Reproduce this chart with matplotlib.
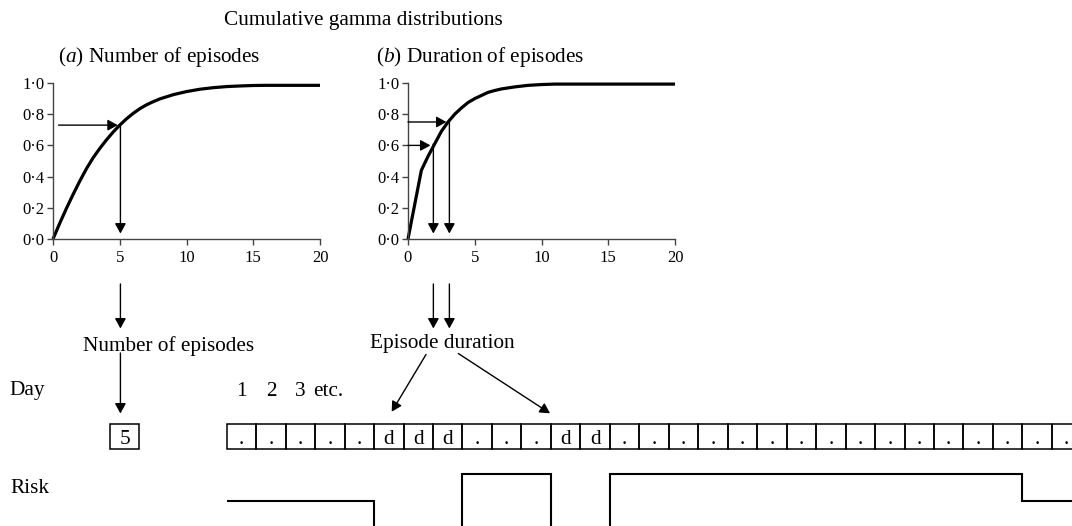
import matplotlib
matplotlib.use("Agg")
import matplotlib.pyplot as plt
from matplotlib.patches import Rectangle
from matplotlib.ticker import FuncFormatter, FixedLocator

plt.rcParams['font.family'] = ['Liberation Serif', 'DejaVu Serif']
plt.rcParams['mathtext.fontset'] = 'custom'
plt.rcParams['mathtext.rm'] = 'Liberation Serif'
plt.rcParams['mathtext.it'] = 'Liberation Serif:italic'

# ---------------- data ----------------
main_title = "Cumulative gamma distributions"
panel_titles = [r"($\mathit{a}$) Number of episodes", r"($\mathit{b}$) Duration of episodes"]

# cumulative gamma, number of episodes
num_x = [0, 0.5, 1, 1.5, 2, 2.5, 3, 3.5, 4, 4.5, 5, 5.5, 6, 6.5, 7, 7.5, 8,
         9, 10, 11, 12, 13, 14, 15, 16, 18, 20]
num_y = [0, 0.10, 0.195, 0.285, 0.37, 0.45, 0.52, 0.58, 0.635, 0.685, 0.73, 0.77, 0.805,
         0.835, 0.86, 0.88, 0.898, 0.925, 0.945, 0.96, 0.97, 0.977, 0.981, 0.984, 0.985,
         0.985, 0.985]
# cumulative gamma, duration of episodes
dur_x = [0, 1, 1.5, 2, 2.5, 3, 3.5, 4, 4.5, 5, 5.5, 6, 6.5, 7, 8, 9, 10, 11, 20]
dur_y = [0, 0.44, 0.53, 0.61, 0.69, 0.75, 0.80, 0.84, 0.875, 0.90, 0.92, 0.94, 0.952,
         0.962, 0.975, 0.985, 0.99, 0.993, 0.993]

x_ticks = [0, 5, 10, 15, 20]
y_ticks = [0.0, 0.2, 0.4, 0.6, 0.8, 1.0]

# sampled values (x, cumulative probability)
num_draw = (5.05, 0.73)
dur_draws = [(1.9, 0.60), (3.1, 0.75)]

n_episodes_label = "5"
day_labels = ["1", "2", "3"]
day_states = ['.'] * 5 + ['d'] * 3 + ['.'] * 3 + ['d'] * 2 + ['.'] * 16
risk_levels = [1] * 5 + [0] * 3 + [2] * 3 + [0] * 2 + [2] * 14 + [1] * 2

# ---------------- layout (pixels) ----------------
W, H = 1072, 526
FS = 15.3
TICK_FS = 12
fig = plt.figure(figsize=(W / 100, H / 100), dpi=100)


def frac_rect(left, top, width, height):
    return [left / W, (H - top - height) / H, width / W, height / H]


# overlay axes in pixel coordinates
ov = fig.add_axes([0, 0, 1, 1])
ov.set_xlim(0, W)
ov.set_ylim(H, 0)
ov.axis('off')

head = dict(arrowstyle='-|>,head_length=0.4,head_width=0.22', color='black', lw=1.0,
            mutation_scale=15, shrinkA=0, shrinkB=0)


def arrow(ax, start, end):
    ax.annotate('', xy=end, xytext=start, arrowprops=head)


fmt = FuncFormatter(lambda v, p: f"{v:.1f}".replace('.', '\u00b7'))

rects = [(53, 83, 267, 156), (408, 83, 267, 156)]
curves = [(num_x, num_y), (dur_x, dur_y)]
axes = []
for rect, (cx, cy) in zip(rects, curves):
    ax = fig.add_axes(frac_rect(*rect))
    ax.patch.set_alpha(0)
    ax.plot(cx, cy, color='black', lw=2.3, solid_capstyle='butt',
            solid_joinstyle='round', clip_on=False)
    ax.set_xlim(0, 20)
    ax.set_ylim(0, 1)
    for s in ['top', 'right']:
        ax.spines[s].set_visible(False)
    for s in ['left', 'bottom']:
        ax.spines[s].set_color('#444444')
        ax.spines[s].set_linewidth(1.0)
    ax.xaxis.set_major_locator(FixedLocator(x_ticks))
    ax.yaxis.set_major_locator(FixedLocator(y_ticks))
    ax.yaxis.set_major_formatter(fmt)
    ax.tick_params(axis='both', direction='out', length=4, width=1.0, color='#444444',
                   labelsize=TICK_FS)
    ax.tick_params(axis='x', pad=4)
    ax.tick_params(axis='y', pad=2)
    axes.append(ax)

ax_a, ax_b = axes
# panel (a) arrows
arrow(ax_a, (0.42, num_draw[1]), (num_draw[0] - 0.2, num_draw[1]))
arrow(ax_a, (num_draw[0], num_draw[1]), (num_draw[0], 0.035))
# panel (b) arrows
for dx, dy in dur_draws:
    arrow(ax_b, (0.0, dy), (dx - 0.22, dy))
    arrow(ax_b, (dx, dy + 0.01), (dx, 0.035))

# titles
ov.text(363.5, 24.7, main_title, ha='center', va='baseline', fontsize=FS)
ov.text(58, 62, panel_titles[0], ha='left', va='baseline', fontsize=FS)
ov.text(376, 62, panel_titles[1], ha='left', va='baseline', fontsize=FS)


# pixel x positions of the sampled values below the panels
def px_a(v):
    return rects[0][0] + v / 20 * rects[0][2]


def px_b(v):
    return rects[1][0] + v / 20 * rects[1][2]


xa = px_a(num_draw[0])
arrow(ov, (xa, 284), (xa, 328.5))
ov.text(169, 351, "Number of episodes", ha='center', va='baseline', fontsize=FS)
arrow(ov, (xa, 353), (xa, 413.5))
for dx, dy in dur_draws:
    xb = px_b(dx)
    arrow(ov, (xb, 284), (xb, 328.5))
ov.text(442.5, 348, "Episode duration", ha='center', va='baseline', fontsize=FS)
arrow(ov, (426, 354.5), (391.7, 411.7))
arrow(ov, (458.3, 353.5), (550, 413.3))

ov.text(9, 395, "Day", ha='left', va='baseline', fontsize=FS)
ov.text(10, 493, "Risk", ha='left', va='baseline', fontsize=FS)

# box with number of episodes
ov.add_patch(Rectangle((110, 424.3), 29.3, 24.4, fill=False, lw=1.1, ec='black'))
ov.text(124.7, 444, n_episodes_label, ha='center', va='baseline', fontsize=FS)

# ---------------- day strip (x in days) ----------------
x0, cw = 226.7, 29.47
day_xlim = ((0 - x0) / cw, (W - x0) / cw)
strip = fig.add_axes([0, 0, 1, 1])
strip.set_xlim(*day_xlim)
strip.set_ylim(H, 0)
strip.axis('off')
strip.patch.set_alpha(0)
for i, st in enumerate(day_states):
    strip.add_patch(Rectangle((i, 424.3), 1, 24.4, fill=False, lw=1.1, ec='black'))
    strip.text(i + 0.5, 444.5, st, ha='center', va='baseline', fontsize=FS)
for i, lab in enumerate(day_labels):
    strip.text(i + 0.5, 396, lab, ha='center', va='baseline', fontsize=FS)
strip.text(len(day_labels) - 0.06, 396, "etc.", ha='left', va='baseline', fontsize=FS)

# ---------------- risk (x in days, y in risk level) ----------------
zero_px, lvl_px, top_px = 528.0, 27.2, 460.0
risk_ax = fig.add_axes([0, 0, 1, (H - top_px) / H])
risk_ax.set_xlim(*day_xlim)
risk_ax.set_ylim((zero_px - H) / lvl_px, (zero_px - top_px) / lvl_px)
risk_ax.axis('off')
risk_ax.patch.set_alpha(0)
risk_ax.stairs(risk_levels, range(len(risk_levels) + 1), baseline=None,
               color='black', lw=1.5)

fig.savefig("out.png", dpi=100)
